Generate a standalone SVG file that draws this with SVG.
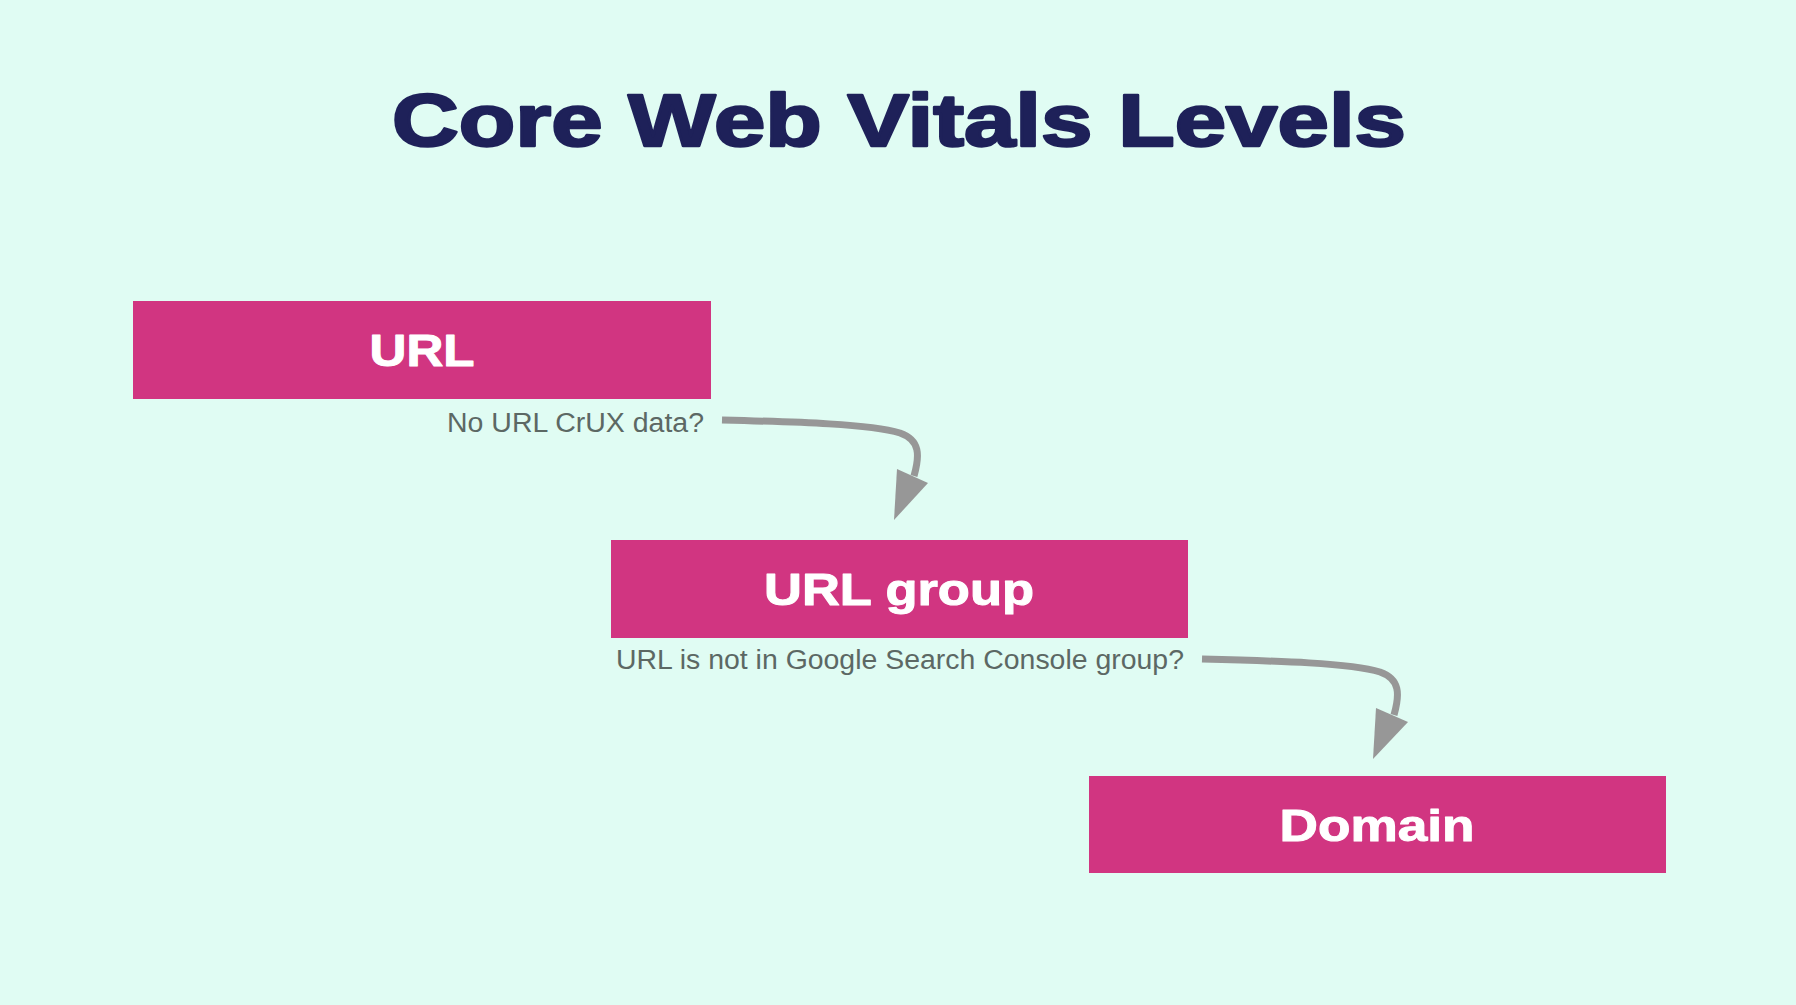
<svg xmlns="http://www.w3.org/2000/svg" width="1796" height="1005" viewBox="0 0 1796 1005">
  <style>
    .title { font-family: "Liberation Sans", Arial, sans-serif; font-weight: bold; font-size: 75px; fill: #1e2159; stroke: #1e2159; stroke-width: 2.5; stroke-linejoin: round; }
    .box { fill: #d13581; }
    .boxtext { font-family: "Liberation Sans", Arial, sans-serif; font-weight: bold; font-size: 44px; fill: #ffffff; stroke: #ffffff; stroke-width: 1; stroke-linejoin: round; text-anchor: middle; }
    .label { font-family: "Liberation Sans", Arial, sans-serif; font-size: 27px; fill: #5c6864; }
    .conn { fill: none; stroke: #979797; stroke-width: 7; }
    .head { fill: #979797; }
  </style>
  <rect x="0" y="0" width="1796" height="1005" fill="#e0fcf3"/>
  <text class="title" x="392" y="146" textLength="1014" lengthAdjust="spacingAndGlyphs">Core Web Vitals Levels</text>

  <g id="node-url">
    <rect class="box" x="133" y="301" width="578" height="98"/>
    <text class="boxtext" x="422" y="366" textLength="105" lengthAdjust="spacingAndGlyphs">URL</text>
  </g>
  <g id="node-urlgroup">
    <rect class="box" x="611" y="540" width="577" height="98"/>
    <text class="boxtext" x="899" y="605" textLength="270" lengthAdjust="spacingAndGlyphs">URL group</text>
  </g>
  <g id="node-domain">
    <rect class="box" x="1089" y="776" width="577" height="97"/>
    <text class="boxtext" x="1377" y="841" textLength="195" lengthAdjust="spacingAndGlyphs">Domain</text>
  </g>

  <g id="connectors">
    <text class="label" x="447" y="432" textLength="257" lengthAdjust="spacingAndGlyphs">No URL CrUX data?</text>
    <path class="conn" d="M722,420 C800,422 870,424 900,433 C920,440 920,455 914,476"/>
    <polygon class="head" points="897,469 928,483 894,520"/>
    <text class="label" x="616" y="669" textLength="568" lengthAdjust="spacingAndGlyphs">URL is not in Google Search Console group?</text>
    <path class="conn" d="M1202,659 C1280,661 1350,663 1380,672 C1400,679 1400,694 1394,715"/>
    <polygon class="head" points="1376,708 1408,722 1373,759"/>
  </g>
</svg>
